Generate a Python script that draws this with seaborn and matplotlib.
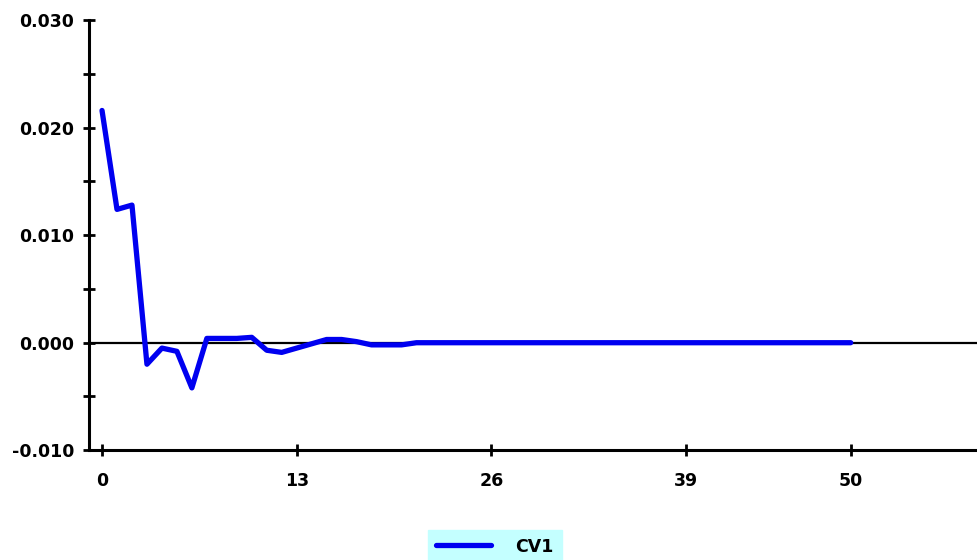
import matplotlib
matplotlib.use("Agg")
import matplotlib.pyplot as plt
import seaborn as sns
import pandas as pd
from matplotlib.ticker import MultipleLocator

# values (one per step)
cv1 = [0.0216, 0.0124, 0.0128, -0.0020, -0.0005, -0.0008, -0.0042, 0.0004,
       0.0004, 0.0004, 0.0005, -0.0007, -0.0009, -0.0005, -0.0001, 0.0003,
       0.0003, 0.0001, -0.0002, -0.0002, -0.0002, 0.0000, 0.0000, 0.0000,
       0.0000, 0.0000, 0.0000, 0.0000, 0.0000, 0.0000, 0.0000, 0.0000,
       0.0000, 0.0000, 0.0000, 0.0000, 0.0000, 0.0000, 0.0000, 0.0000,
       0.0000, 0.0000, 0.0000, 0.0000, 0.0000, 0.0000, 0.0000, 0.0000,
       0.0000, 0.0000, 0.0000]
steps = list(range(len(cv1)))
x_ticks = [0, 13, 26, 39, 50]
y_ticks = [-0.010, 0.000, 0.010, 0.020, 0.030]
y_labels = ["-0.010", "0.000", "0.010", "0.020", "0.030"]

sns.set_style("white")
plt.rcParams["font.family"] = ["DejaVu Sans"]
plt.rcParams["font.weight"] = "bold"
plt.rcParams["text.color"] = "black"
plt.rcParams["xtick.color"] = "black"
plt.rcParams["ytick.color"] = "black"

df = pd.DataFrame({"step": steps, "value": cv1})

fig = plt.figure(figsize=(9.78, 5.6), dpi=100)
ax = fig.add_axes([0.091, 0.196, 0.909, 0.768])

# zero reference line
ax.axhline(0, color="black", linewidth=1.6, zorder=1)

sns.lineplot(data=df, x="step", y="value", ax=ax, color="#0000f0",
             linewidth=3.8, label="CV1", zorder=3)

ax.set_xlim(-0.87, 58.5)
ax.set_ylim(-0.010, 0.030)

ax.set_xticks(x_ticks)
ax.set_xticklabels([str(t) for t in x_ticks])
ax.set_yticks(y_ticks)
ax.set_yticklabels(y_labels)
ax.yaxis.set_minor_locator(MultipleLocator(0.005))

ax.tick_params(axis="y", which="both", left=True, direction="inout", length=9,
               width=2, color="black", labelcolor="black", labelsize=12.5, pad=6)
ax.tick_params(axis="x", which="major", bottom=True, direction="inout", length=9,
               width=2, color="black", labelcolor="black", labelsize=12.5, pad=11)

for side in ["top", "right"]:
    ax.spines[side].set_visible(False)
for side in ["left", "bottom"]:
    ax.spines[side].set_color("black")
    ax.spines[side].set_linewidth(2.2)

ax.set_xlabel("")
ax.set_ylabel("")

leg = ax.legend(loc="upper center", bbox_to_anchor=(0.506, 0.054),
                bbox_transform=fig.transFigure, frameon=True, fancybox=False,
                fontsize=12.5, handlelength=3.2, handletextpad=1.4,
                borderpad=0.45, borderaxespad=0)
leg.get_frame().set_facecolor("#c4ffff")
leg.get_frame().set_edgecolor("#c4ffff")
leg.get_frame().set_alpha(1)
for txt in leg.get_texts():
    txt.set_color("black")

fig.savefig("out.png", dpi=100)
